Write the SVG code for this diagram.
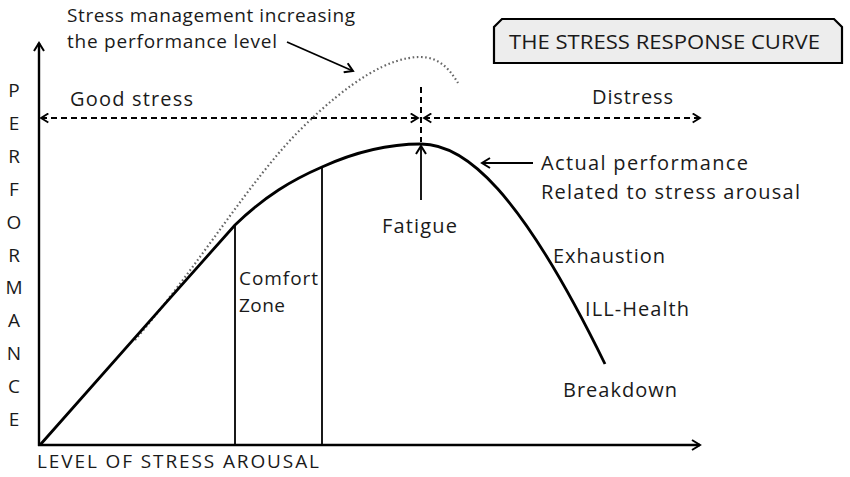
<svg xmlns="http://www.w3.org/2000/svg" width="850" height="477" viewBox="0 0 850 477">
<style>
  text { font-family: "Open Sans", "Liberation Sans", sans-serif; fill: #1a1a1a; }
  .lbl { font-size: 19px; }
  .ax { stroke: #000; stroke-width: 2.4; fill: none; }
  .ln { stroke: #000; stroke-width: 1.8; fill: none; }
  .dash { stroke: #000; stroke-width: 2; fill: none; stroke-dasharray: 6 4; }
  .curve { stroke: #000; stroke-width: 2.8; fill: none; }
  .dot { stroke: #666; stroke-width: 2.2; fill: none; stroke-dasharray: 1.6 2.6; }
  .perf { font-size: 19px; text-anchor: middle; }
</style>
<defs>
  <marker id="ah" viewBox="0 0 12 12" refX="10" refY="6" markerWidth="12" markerHeight="12" markerUnits="userSpaceOnUse" orient="auto">
    <path d="M2,1 L10,6 L2,11" fill="none" stroke="#000" stroke-width="2"/>
  </marker>
  <marker id="ahs" viewBox="0 0 12 12" refX="10" refY="6" markerWidth="11" markerHeight="11" markerUnits="userSpaceOnUse" orient="auto-start-reverse">
    <path d="M2,1 L10,6 L2,11" fill="none" stroke="#000" stroke-width="2"/>
  </marker>
</defs>
<rect width="850" height="477" fill="#fff"/>

<g id="title">
  <path d="M502,19 L834,19 L842,27 L842,63 L494,63 L494,27 Z" fill="#ededed" stroke="#000" stroke-width="2.2"/>
  <text x="509" y="49" font-size="20" textLength="311" lengthAdjust="spacingAndGlyphs">THE STRESS RESPONSE CURVE</text>
</g>

<g id="connectors">
  <line class="ax" x1="39" y1="446" x2="39" y2="43" marker-end="url(#ah)"/>
  <line class="ax" x1="38" y1="445" x2="700" y2="445" marker-end="url(#ah)"/>
  <line class="ln" x1="235" y1="225" x2="235" y2="445"/>
  <line class="ln" x1="322" y1="167" x2="322" y2="445"/>
  <line class="dash" x1="41" y1="118" x2="418" y2="118" marker-start="url(#ahs)" marker-end="url(#ahs)"/>
  <line class="dash" x1="424" y1="118" x2="700" y2="118" marker-start="url(#ahs)" marker-end="url(#ahs)"/>
  <line class="dash" x1="421" y1="87" x2="421" y2="142"/>
  <line class="ln" x1="421" y1="200" x2="421" y2="146" marker-end="url(#ah)"/>
  <line class="ln" x1="533" y1="163" x2="482" y2="163" marker-end="url(#ah)"/>
  <line class="ln" x1="287" y1="42" x2="353" y2="71" marker-end="url(#ah)"/>
  <path class="dot" d="M135,340 C200,264 250,180 300,130 C350,80 390,57 420,57 C440,57 450,70 458,83"/>
  <path class="curve" d="M40,445 C100,377 170,298 235,225 C265,196 292,180 322,167 C355,152 388,144 421,144 C465,144 520,190 605,364"/>
</g>

<g id="stress-management">
  <text class="lbl" x="67" y="22" font-size="18" textLength="288">Stress management increasing</text>
  <text class="lbl" x="67" y="48" font-size="18" textLength="210">the performance level</text>
</g>
<g id="good-stress"><text x="70" y="106" font-size="20" textLength="123">Good stress</text></g>
<g id="distress"><text x="592" y="104" font-size="20" textLength="81">Distress</text></g>
<g id="fatigue"><text x="382" y="233" font-size="20" textLength="75">Fatigue</text></g>
<g id="comfort-zone">
  <text x="239" y="285" font-size="19" textLength="79">Comfort</text>
  <text x="239" y="312" font-size="19" textLength="46">Zone</text>
</g>
<g id="actual-performance">
  <text x="541" y="170" font-size="20" textLength="207">Actual performance</text>
  <text x="541" y="199" font-size="20" textLength="259">Related to stress arousal</text>
</g>
<g id="exhaustion"><text x="553" y="263" font-size="20" textLength="112">Exhaustion</text></g>
<g id="ill-health"><text x="585" y="316" font-size="20" textLength="104">ILL-Health</text></g>
<g id="breakdown"><text x="563" y="397" font-size="20" textLength="114">Breakdown</text></g>
<g id="x-label"><text x="37" y="468" font-size="19" textLength="282">LEVEL OF STRESS AROUSAL</text></g>
<g id="y-label">
  <text class="perf" x="14" y="97">P</text>
  <text class="perf" x="14" y="130">E</text>
  <text class="perf" x="14" y="163">R</text>
  <text class="perf" x="14" y="196">F</text>
  <text class="perf" x="14" y="229">O</text>
  <text class="perf" x="14" y="262">R</text>
  <text class="perf" x="14" y="294">M</text>
  <text class="perf" x="14" y="327">A</text>
  <text class="perf" x="14" y="360">N</text>
  <text class="perf" x="14" y="393">C</text>
  <text class="perf" x="14" y="426">E</text>
</g>
</svg>
